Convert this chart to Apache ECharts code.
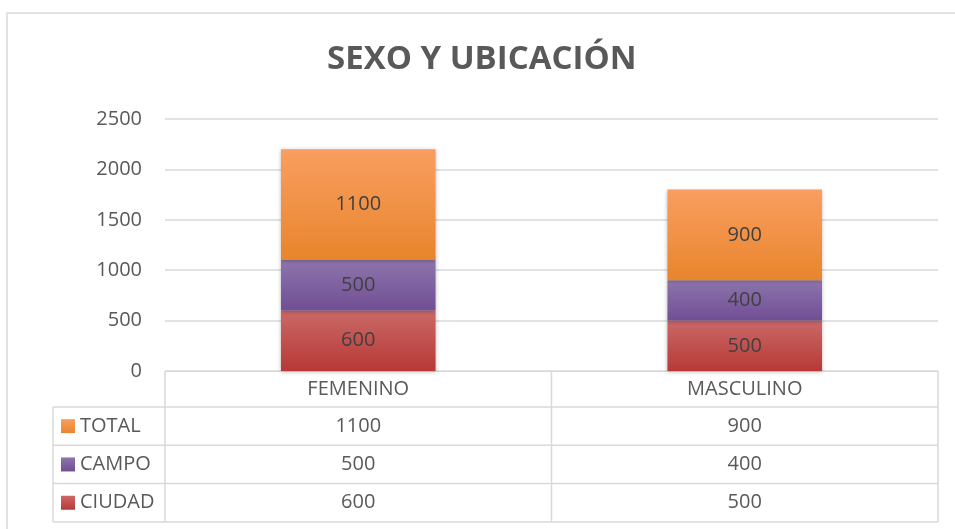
<!DOCTYPE html>
<html>
<head>
<meta charset="utf-8">
<script src="https://cdn.jsdelivr.net/npm/echarts@6/dist/echarts.min.js"></script>
<style>
html, body { margin: 0; padding: 0; background: #fff; }
#chart { width: 955px; height: 529px; }
</style>
</head>
<body>
<div id="chart"></div>
<script>
// Data
const categories = ['FEMENINO', 'MASCULINO'];
const ciudad = [600, 500];
const campo = [500, 400];
const total = [1100, 900];
const yTicks = [0, 500, 1000, 1500, 2000, 2500];

const font = "'Open Sans', 'Noto Sans', sans-serif";
const textColor = '#595959';
const lineColor = '#d9d9d9';

function grad(top, bottom) {
    return {
        type: 'linear', x: 0, y: 0, x2: 0, y2: 1,
        colorStops: [
            { offset: 0, color: top },
            { offset: 1, color: bottom }
        ]
    };
}

const colors = {
    TOTAL: grad('#f99e60', '#e8852c'),
    CAMPO: grad('#8d75ac', '#704e94'),
    CIUDAD: grad('#ca6967', '#b73936')
};

// table rows, top to bottom like the reference
const tableRows = [
    { name: 'TOTAL', values: total },
    { name: 'CAMPO', values: campo },
    { name: 'CIUDAD', values: ciudad }
];

const gridLeft = 165, gridRight = 938, gridTop = 119, gridBottom = 371;

function barSeries(name, data) {
    return {
        name: name,
        type: 'bar',
        stack: 'all',
        barWidth: '40%',
        data: data,
        itemStyle: {
            color: colors[name],
            shadowColor: 'rgba(0, 0, 0, 0.25)',
            shadowBlur: 4,
            shadowOffsetY: 1
        },
        label: {
            show: true,
            position: 'inside',
            color: '#404040',
            fontFamily: font,
            fontSize: 20
        }
    };
}

const chart = echarts.init(document.getElementById('chart'));
chart.setOption({
    animation: false,
    title: {
        text: 'SEXO Y UBICACIÓN',
        left: 322,
        top: 38,
        textStyle: {
            color: textColor,
            fontFamily: font,
            fontWeight: 'bold',
            fontSize: 33
        }
    },
    grid: {
        left: gridLeft,
        right: 955 - gridRight,
        top: gridTop,
        bottom: 529 - gridBottom
    },
    xAxis: {
        type: 'category',
        data: categories,
        axisLine: { lineStyle: { color: lineColor } },
        axisTick: { show: false },
        axisLabel: {
            margin: 8,
            color: textColor,
            fontFamily: font,
            fontSize: 20
        }
    },
    yAxis: {
        type: 'value',
        min: yTicks[0],
        max: yTicks[yTicks.length - 1],
        interval: yTicks[1] - yTicks[0],
        axisLine: { show: false },
        axisTick: { show: false },
        axisLabel: {
            margin: 23,
            color: textColor,
            fontFamily: font,
            fontSize: 20,
            formatter: function (v) { return String(v); }
        },
        splitLine: { lineStyle: { color: lineColor, width: 1.5 } }
    },
    series: [
        barSeries('CIUDAD', ciudad),
        barSeries('CAMPO', campo),
        barSeries('TOTAL', total)
    ]
});

// Data table under the axis
const tableLeft = 53;
const headerBottom = 407;
const rowH = 38.3;
const mid = (gridLeft + gridRight) / 2;
const g = [];

function hLine(x1, x2, y) {
    g.push({ type: 'line', shape: { x1: x1, y1: y, x2: x2, y2: y }, style: { stroke: lineColor, lineWidth: 1.5 } });
}
function vLine(x, y1, y2) {
    g.push({ type: 'line', shape: { x1: x, y1: y1, x2: x, y2: y2 }, style: { stroke: lineColor, lineWidth: 1.5 } });
}

// outer chart frame
g.push({ type: 'rect', shape: { x: 7, y: 13, width: 1000, height: 1000 }, style: { fill: 'none', stroke: lineColor, lineWidth: 1.5 } });

const tableBottom = headerBottom + rowH * tableRows.length;
for (let i = 0; i <= tableRows.length; i++) {
    hLine(tableLeft, gridRight, headerBottom + rowH * i);
}
vLine(tableLeft, headerBottom, tableBottom);
vLine(gridLeft, gridBottom, tableBottom);
vLine(mid, gridBottom, tableBottom);
vLine(gridRight, gridBottom, tableBottom);

tableRows.forEach(function (row, i) {
    const cy = headerBottom + rowH * i + rowH / 2;
    g.push({ type: 'rect', shape: { x: 61, y: cy - 7, width: 14, height: 14 }, style: { fill: colors[row.name] } });
    g.push({
        type: 'text', x: 80, y: cy,
        style: { text: row.name, fill: textColor, font: '20px ' + font, verticalAlign: 'middle' }
    });
    row.values.forEach(function (v, j) {
        const cx = chart.convertToPixel({ xAxisIndex: 0 }, categories[j]);
        g.push({
            type: 'text', x: cx, y: cy,
            style: { text: String(v), fill: textColor, font: '20px ' + font, align: 'center', verticalAlign: 'middle' }
        });
    });
});

chart.setOption({ graphic: g });

window.addEventListener('resize', function () {
    chart.resize();
});
</script>
</body>
</html>
